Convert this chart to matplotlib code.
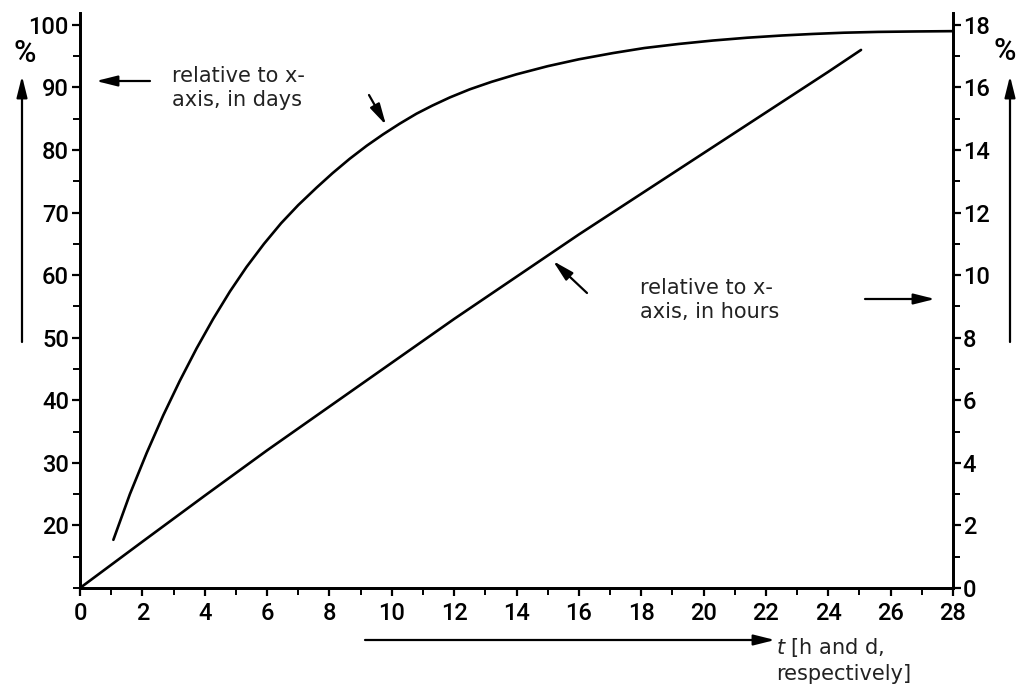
"""
Two-scale growth curve: days (left axis) vs hours (right axis).
"""

import matplotlib
matplotlib.use("Agg")
import matplotlib.pyplot as plt

# curve read against the left axis (t in days)
t_days = [1.07, 1.6, 2.14, 2.67, 3.2, 3.74, 4.27, 4.81, 5.34, 5.9, 6.45, 7.0,
          7.59, 8.1, 8.65, 9.2, 9.72, 10.25, 10.79, 11.3, 11.86, 12.5, 13.2,
          14.0, 15.0, 16.0, 17.1, 18.1, 19.2, 20.3, 21.4, 22.5, 23.5, 24.5,
          25.6, 26.8, 28.0]
pct_days = [17.7, 25.0, 31.6, 37.6, 43.1, 48.3, 53.0, 57.4, 61.3, 65.0, 68.3, 71.2,
            74.0, 76.3, 78.6, 80.7, 82.5, 84.2, 85.8, 87.1, 88.4, 89.7, 90.9,
            92.1, 93.4, 94.5, 95.5, 96.3, 96.95, 97.5, 97.95, 98.3, 98.55, 98.75,
            98.88, 98.95, 99.0]

# curve read against the right axis (t in hours)
t_hours = [0, 2, 4, 6, 8, 10, 12, 14, 16, 18, 20, 22, 24, 25.05]
pct_hours = [0, 1.48, 2.95, 4.4, 5.8, 7.2, 8.6, 9.95, 11.3, 12.6, 13.9, 15.2, 16.5, 17.2]

W, H = 1021, 686
TICK_FONT = ["Roboto", "DejaVu Sans"]


def fx(x):
    return x / W


def fy(y):
    return 1 - y / H


fig = plt.figure(figsize=(W / 100, H / 100), dpi=100)
ax = fig.add_axes([fx(80), fy(588), (953 - 80) / W, (588 - 13) / H])
ax2 = ax.twinx()

ax.plot(t_days, pct_days, color="black", lw=1.9, solid_capstyle="round",
        solid_joinstyle="round")
ax2.plot(t_hours, pct_hours, color="black", lw=1.9, solid_capstyle="round",
         solid_joinstyle="round")

ax.set_xlim(0, 28)
ax.set_ylim(10, 101.9)
ax2.set_ylim(0, (101.9 - 10) / 5)

ax.set_xticks(range(0, 29, 2))
ax.set_xticks(range(0, 29), minor=True)
ax.set_yticks(range(20, 101, 10))
ax.set_yticks(range(10, 101, 5), minor=True)
ax2.set_yticks(range(0, 19, 2))
ax2.set_yticks(range(0, 19), minor=True)

for a in (ax, ax2):
    a.spines["top"].set_visible(False)
    for s in a.spines.values():
        s.set_linewidth(2)
    a.tick_params(which="major", length=6, width=1.6, direction="out")
    a.tick_params(which="minor", length=5, width=1.4, direction="out")
    for lab in a.get_xticklabels() + a.get_yticklabels():
        lab.set_family(TICK_FONT)
        lab.set_fontsize(17)
        lab.set_fontweight("medium")

ax.tick_params(axis="x", pad=4)
ax.tick_params(axis="y", pad=2)
ax2.tick_params(axis="y", pad=1)

# annotations
txt = dict(fontsize=15, family="DejaVu Sans", color="#222222", linespacing=1.3)
fig.text(fx(172), fy(88), "relative to x-\naxis, in days", ha="left", va="center", **txt)
fig.text(fx(640), fy(300), "relative to x-\naxis, in hours", ha="left", va="center", **txt)
fig.text(fx(776), fy(660), "$t$ [h and d,\nrespectively]", ha="left", va="center", **txt)

fig.text(fx(25), fy(53), "%", ha="center", va="center", fontsize=22,
         family=TICK_FONT, fontweight="medium")
fig.text(fx(1005), fy(52), "%", ha="center", va="center", fontsize=22,
         family=TICK_FONT, fontweight="medium")

arrow = dict(arrowstyle="-|>,head_length=0.8,head_width=0.2", color="black",
             lw=1.6, mutation_scale=16, shrinkA=0, shrinkB=0)


def draw_arrow(x0, y0, x1, y1):
    ax.annotate("", xy=(fx(x1), fy(y1)), xytext=(fx(x0), fy(y0)),
                xycoords="figure fraction", textcoords="figure fraction",
                arrowprops=arrow, annotation_clip=False)


draw_arrow(150, 81, 96, 81)     # days text -> left axis
draw_arrow(369, 95, 386, 125)   # days text -> curve
draw_arrow(587, 293, 553, 261)  # hours text -> line
draw_arrow(865, 299, 935, 299)  # hours text -> right axis
draw_arrow(22, 342, 22, 76)     # left %
draw_arrow(1010, 342, 1010, 76) # right %
draw_arrow(365, 640, 775, 640)  # time axis

fig.savefig("out.png", dpi=100)
